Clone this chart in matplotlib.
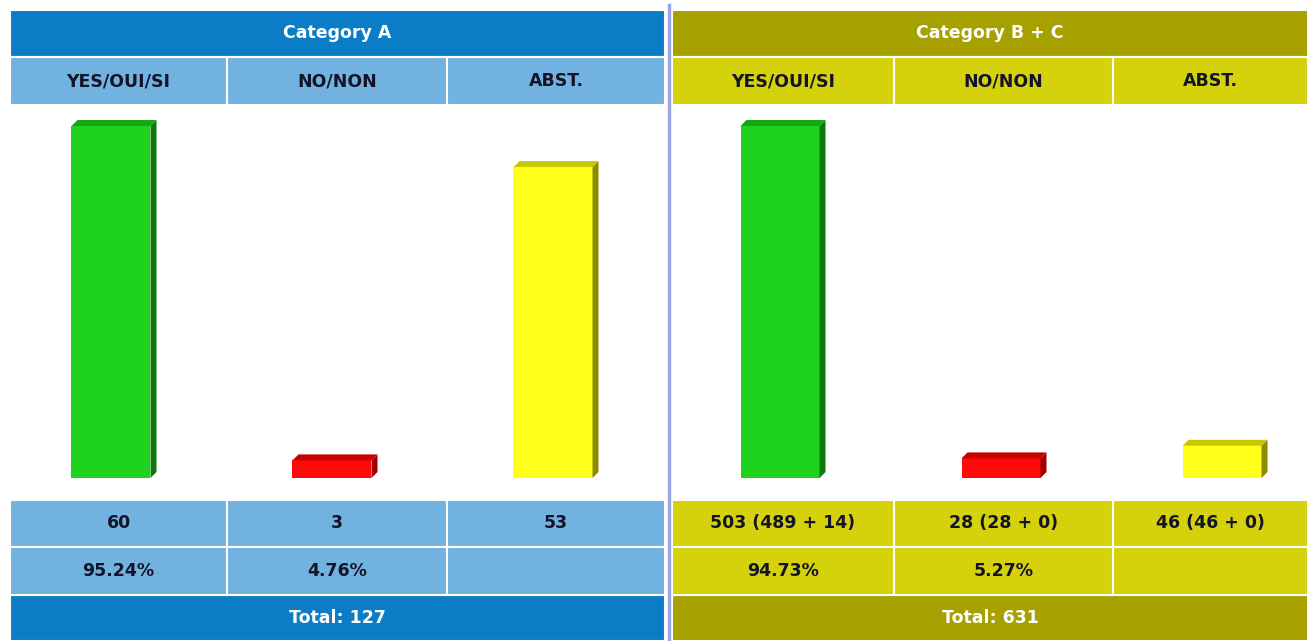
import matplotlib.pyplot as plt
from matplotlib.patches import Rectangle, Polygon

# data
categories = ['YES/OUI/SI', 'NO/NON', 'ABST.']
panel_titles = ['Category A', 'Category B + C']
values_a = [60, 3, 53]
values_bc = [503, 28, 46]
counts_a = ['60', '3', '53']
counts_bc = ['503 (489 + 14)', '28 (28 + 0)', '46 (46 + 0)']
pct_a = ['95.24%', '4.76%', '']
pct_bc = ['94.73%', '5.27%', '']
totals = [127, 631]

W, H = 1308, 641
fig = plt.figure(figsize=(W / 100, H / 100), dpi=100)
bg = fig.add_axes([0, 0, 1, 1])
bg.set_xlim(0, W)
bg.set_ylim(H, 0)
bg.axis('off')

bar_face = ['#1ed21e', '#ff0a0a', '#ffff1a']
bar_side = ['#0b7a0b', '#a00000', '#8c8c00']
bar_top = ['#14a814', '#c80000', '#c8c800']

panels = [
    dict(cols=[10, 227, 447, 665], head='#0a7dc6', sub='#72b2e0', first=104,
         vals=values_a, counts=counts_a, pct=pct_a, title=panel_titles[0], total=totals[0]),
    dict(cols=[672, 894, 1113, 1308], head='#a6a000', sub='#d5d20c', first=111,
         vals=values_bc, counts=counts_bc, pct=pct_bc, title=panel_titles[1], total=totals[1]),
]

# rows (pixel y)
y_head, y_sub, y_plot, y_cnt, y_pct, y_tot, y_end = 10, 57, 105, 500, 547, 595, 641
zero_px = 478
top_px = 126
spacing = 221

txt_dark = '#141428'
fs = 12.5

for p in panels:
    cols = p['cols']
    x0, x1 = cols[0], cols[-1]
    # header
    bg.add_patch(Rectangle((x0, y_head), x1 - x0, y_sub - y_head, fc=p['head'], ec='white', lw=1.5))
    bg.text((x0 + x1) / 2, (y_head + y_sub) / 2, p['title'], color='white', fontsize=fs,
            fontweight='bold', ha='center', va='center')
    # total row
    bg.add_patch(Rectangle((x0, y_tot), x1 - x0, y_end - y_tot, fc=p['head'], ec='white', lw=1.5))
    bg.text((x0 + x1) / 2, (y_tot + y_end) / 2, 'Total: %d' % p['total'], color='white',
            fontsize=fs, fontweight='bold', ha='center', va='center')
    for i in range(3):
        cx0, cx1 = cols[i], cols[i + 1]
        cx = (cx0 + cx1) / 2
        bg.add_patch(Rectangle((cx0, y_sub), cx1 - cx0, y_plot - y_sub, fc=p['sub'], ec='white', lw=1.5))
        bg.text(cx, (y_sub + y_plot) / 2, categories[i], color=txt_dark, fontsize=fs,
                fontweight='bold', ha='center', va='center')
        bg.add_patch(Rectangle((cx0, y_cnt), cx1 - cx0, y_pct - y_cnt, fc=p['sub'], ec='white', lw=1.5))
        bg.text(cx, (y_cnt + y_pct) / 2, p['counts'][i], color=txt_dark, fontsize=fs,
                fontweight='bold', ha='center', va='center')
        bg.add_patch(Rectangle((cx0, y_pct), cx1 - cx0, y_tot - y_pct, fc=p['sub'], ec='white', lw=1.5))
        bg.text(cx, (y_pct + y_tot) / 2, p['pct'][i], color=txt_dark, fontsize=fs,
                fontweight='bold', ha='center', va='center')

    # bar area
    ax = fig.add_axes([x0 / W, 1 - y_cnt / H, (x1 - x0) / W, (y_cnt - y_plot) / H])
    ax.axis('off')
    vmax = max(p['vals'])
    scale = (zero_px - top_px) / vmax
    ax.set_ylim(-(y_cnt - zero_px) / scale, vmax + (top_px - y_plot) / scale)
    ax.set_xlim(-p['first'] / spacing, (x1 - x0 - p['first']) / spacing)
    depth = 6
    dx = depth / spacing
    dy = depth / scale
    w = 79 / spacing
    for i, v in enumerate(p['vals']):
        xc = i - dx / 2
        ax.bar(xc, v, width=w, color=bar_face[i], edgecolor='none', zorder=2)
        l, r = xc - w / 2, xc + w / 2
        ax.add_patch(Polygon([(r, 0), (r + dx, dy), (r + dx, v + dy), (r, v)],
                             closed=True, fc=bar_side[i], ec='none', zorder=2))
        ax.add_patch(Polygon([(l, v), (l + dx, v + dy), (r + dx, v + dy), (r, v)],
                             closed=True, fc=bar_top[i], ec='none', zorder=2))

# divider between panels
bg.plot([668.5, 668.5], [5, H], color='#9aa6e6', lw=2.5)

fig.savefig('out.png', dpi=100)
